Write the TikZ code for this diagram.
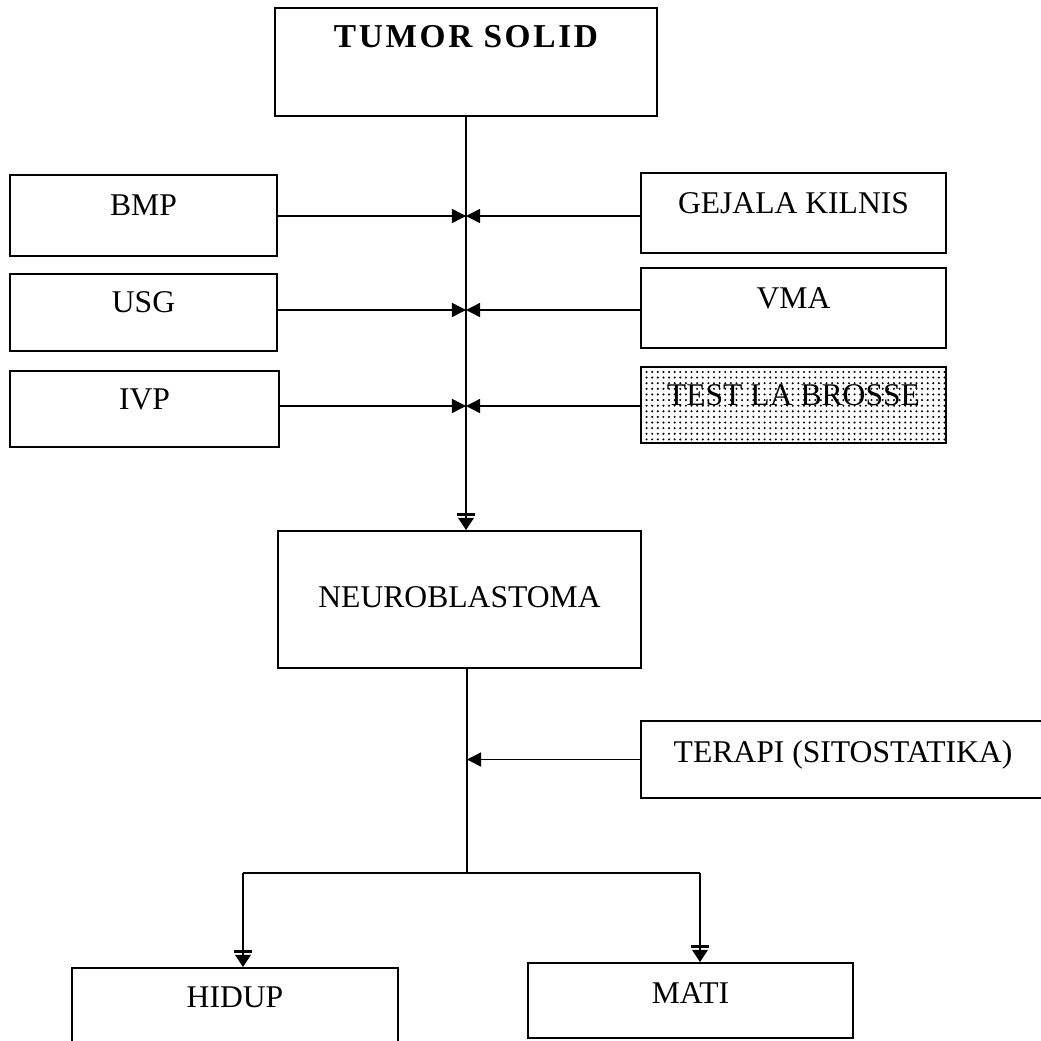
\documentclass[tikz,border=0pt]{standalone}
\usepackage{fontspec}
\setmainfont{Liberation Serif}
\usetikzlibrary{arrows.meta,patterns.meta}
\begin{document}
\begin{tikzpicture}[x=0.02cm,y=-0.02cm,font=\fontsize{18}{20}\selectfont]
\tikzstyle{kotak} = [draw, line width=1.1pt, inner sep=0pt, text height=0.45cm, text depth=0.45cm] % box, text a little above middle
\tikzstyle{garis} = [line width=0.85pt] % plain connector
\tikzstyle{masuk} = [garis, -{Triangle[length=8pt,width=8pt]}] % arrow into the main line
\tikzstyle{turun} = [garis, -{Bar[width=10pt,line width=1.6pt,sep=1pt]Triangle[length=7pt,width=9pt]}] % arrow with bar, into a box

\useasboundingbox (0,0) rectangle (1041,1041);

\node[kotak, minimum width=7.64cm, minimum height=2.16cm, text depth=1.05cm,
      font=\fontsize{19}{21}\selectfont\bfseries\addfontfeatures{LetterSpace=8}] (tumor) at (466,62) {TUMOR SOLID};

% left column
\node[kotak, minimum width=5.34cm, minimum height=1.62cm] (bmp) at (143.5,215.5) {BMP};
\node[kotak, minimum width=5.34cm, minimum height=1.54cm] (usg) at (143.5,312.5) {USG};
\node[kotak, minimum width=5.38cm, minimum height=1.52cm] (ivp) at (144.5,409) {IVP};

% right column
\node[kotak, minimum width=6.1cm, minimum height=1.6cm] (gejala) at (793.5,213) {GEJALA KILNIS};
\node[kotak, minimum width=6.1cm, minimum height=1.6cm] (vma) at (793.5,308) {VMA};
\node[kotak, minimum width=6.1cm, minimum height=1.52cm, pattern={Dots[distance=3.2pt,radius=0.65pt]}] (test) at (793.5,405) {TEST LA BROSSE};

\node[kotak, minimum width=7.26cm, minimum height=2.74cm, text depth=0.13cm] (neuro) at (459.5,599.5) {NEUROBLASTOMA};
\node[kotak, minimum width=8.08cm, minimum height=1.54cm, text depth=0.33cm] (terapi) at (843,759.5) {TERAPI (SITOSTATIKA)};

\node[kotak, minimum width=6.52cm, minimum height=1.58cm] (hidup) at (235,1007.5) {HIDUP};
\node[kotak, minimum width=6.5cm, minimum height=1.5cm, text depth=0.33cm] (mati) at (690.5,1000.5) {MATI};

% points on the main line
\coordinate (t1) at (466,216);
\coordinate (t2) at (466,310);
\coordinate (t3) at (466,406);
\coordinate (cabang) at (467,873); % split point
\coordinate (kiri) at (243,873);
\coordinate (kanan) at (700,873);

\draw[turun] (tumor.south) -- (tumor.south |- neuro.north);
\foreach \a/\b/\t in {bmp/gejala/t1, usg/vma/t2, ivp/test/t3} {
  \draw[masuk] (\a.east |- \t) -- (\t);
  \draw[masuk] (\b.west |- \t) -- (\t);
}

\draw[garis] (cabang |- neuro.south) -- (cabang);
\draw[masuk] (terapi.west) -- (terapi.west -| cabang);
\draw[garis] (kiri) -- (kanan);
\draw[turun] (kiri) -- (kiri |- hidup.north);
\draw[turun] (kanan) -- (kanan |- mati.north);
\end{tikzpicture}
\end{document}
